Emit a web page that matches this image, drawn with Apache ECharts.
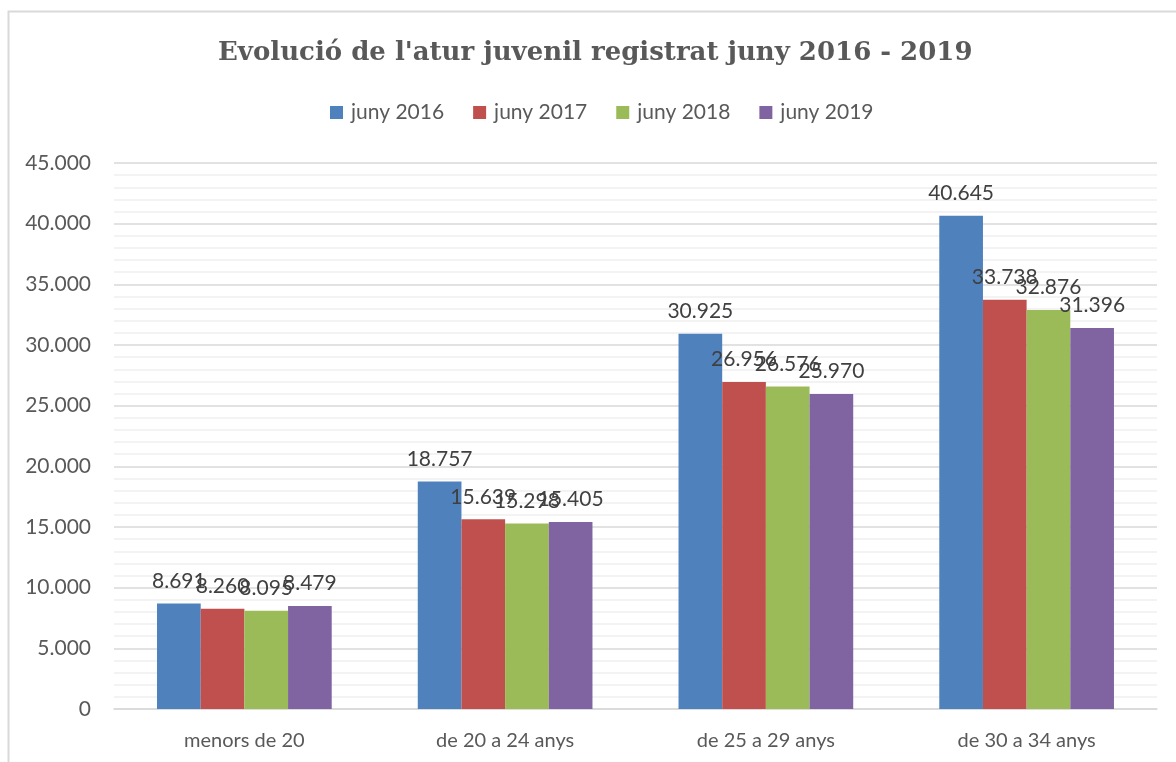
<!DOCTYPE html>
<html>
<head>
<meta charset="utf-8">
<script src="https://cdn.jsdelivr.net/npm/echarts@6/dist/echarts.min.js"></script>
<style>
  html, body { margin: 0; padding: 0; background: #fff; }
  #chart { width: 1176px; height: 762px; }
</style>
</head>
<body>
<div id="chart"></div>
<script>
const categories = ['menors de 20', 'de 20 a 24 anys', 'de 25 a 29 anys', 'de 30 a 34 anys']
const seriesNames = ['juny 2016', 'juny 2017', 'juny 2018', 'juny 2019']
const juny2016 = [8691, 18757, 30925, 40645]
const juny2017 = [8260, 15639, 26956, 33738]
const juny2018 = [8095, 15298, 26576, 32876]
const juny2019 = [8479, 15405, 25970, 31396]
const colors = ['#4f81bd', '#c0504d', '#9bbb59', '#8064a2']

const textColor = '#595959'
const font = 'Lato, "Open Sans", sans-serif'

// thousands with a dot, Catalan style
const fmt = v => String(v).replace(/\B(?=(\d{3})+(?!\d))/g, '.')

const chart = echarts.init(document.getElementById('chart'))

const makeSeries = (name, data, i) => ({
  name: name,
  type: 'bar',
  data: data,
  barGap: '0%',
  barCategoryGap: '33%',
  itemStyle: { color: colors[i] },
  label: {
    show: true,
    position: 'top',
    distance: 12,
    color: '#404040',
    fontFamily: font,
    fontSize: 21,
    formatter: p => fmt(p.value)
  },
  animation: false
})

const option = {
  animation: false,
  title: {
    text: "Evolució de l'atur juvenil registrat juny 2016 - 2019",
    left: 213,
    top: 35,
    textStyle: {
      fontFamily: '"DejaVu Serif", serif',
      fontWeight: 'bold',
      fontSize: 26,
      color: textColor
    }
  },
  legend: {
    data: seriesNames,
    top: 97,
    left: 325,
    itemWidth: 13,
    itemHeight: 13,
    itemGap: 29,
    icon: 'rect',
    textStyle: { fontFamily: font, fontSize: 21, color: textColor, padding: [0, 0, 0, 3] }
  },
  grid: {
    left: 114,
    right: 19,
    top: 163,
    bottom: 53,
    containLabel: false
  },
  xAxis: {
    type: 'category',
    data: categories,
    axisLine: { lineStyle: { color: '#d9d9d9', width: 1.5 } },
    axisTick: { show: false },
    axisLabel: { fontFamily: font, fontSize: 20, color: textColor, margin: 22 }
  },
  yAxis: {
    type: 'value',
    min: 0,
    max: 45000,
    interval: 5000,
    axisLine: { show: false },
    axisTick: { show: false },
    axisLabel: {
      fontFamily: font, fontSize: 21, color: textColor, margin: 23,
      formatter: v => fmt(v)
    },
    splitLine: { lineStyle: { color: '#d9d9d9', width: 1.5 } },
    minorTick: { show: false, splitNumber: 5 },
    minorSplitLine: { show: true, lineStyle: { color: '#f0f0f0', width: 1.5 } }
  },
  graphic: [{
    type: 'rect',
    shape: { x: 8.5, y: 11.5, width: 1300, height: 900 },
    style: { fill: null, stroke: '#d9d9d9', lineWidth: 2 },
    silent: true,
    z: -1
  }],
  series: [
    makeSeries(seriesNames[0], juny2016, 0),
    makeSeries(seriesNames[1], juny2017, 1),
    makeSeries(seriesNames[2], juny2018, 2),
    makeSeries(seriesNames[3], juny2019, 3)
  ]
}

chart.setOption(option)
window.addEventListener('resize', () => chart.resize())
</script>
</body>
</html>
